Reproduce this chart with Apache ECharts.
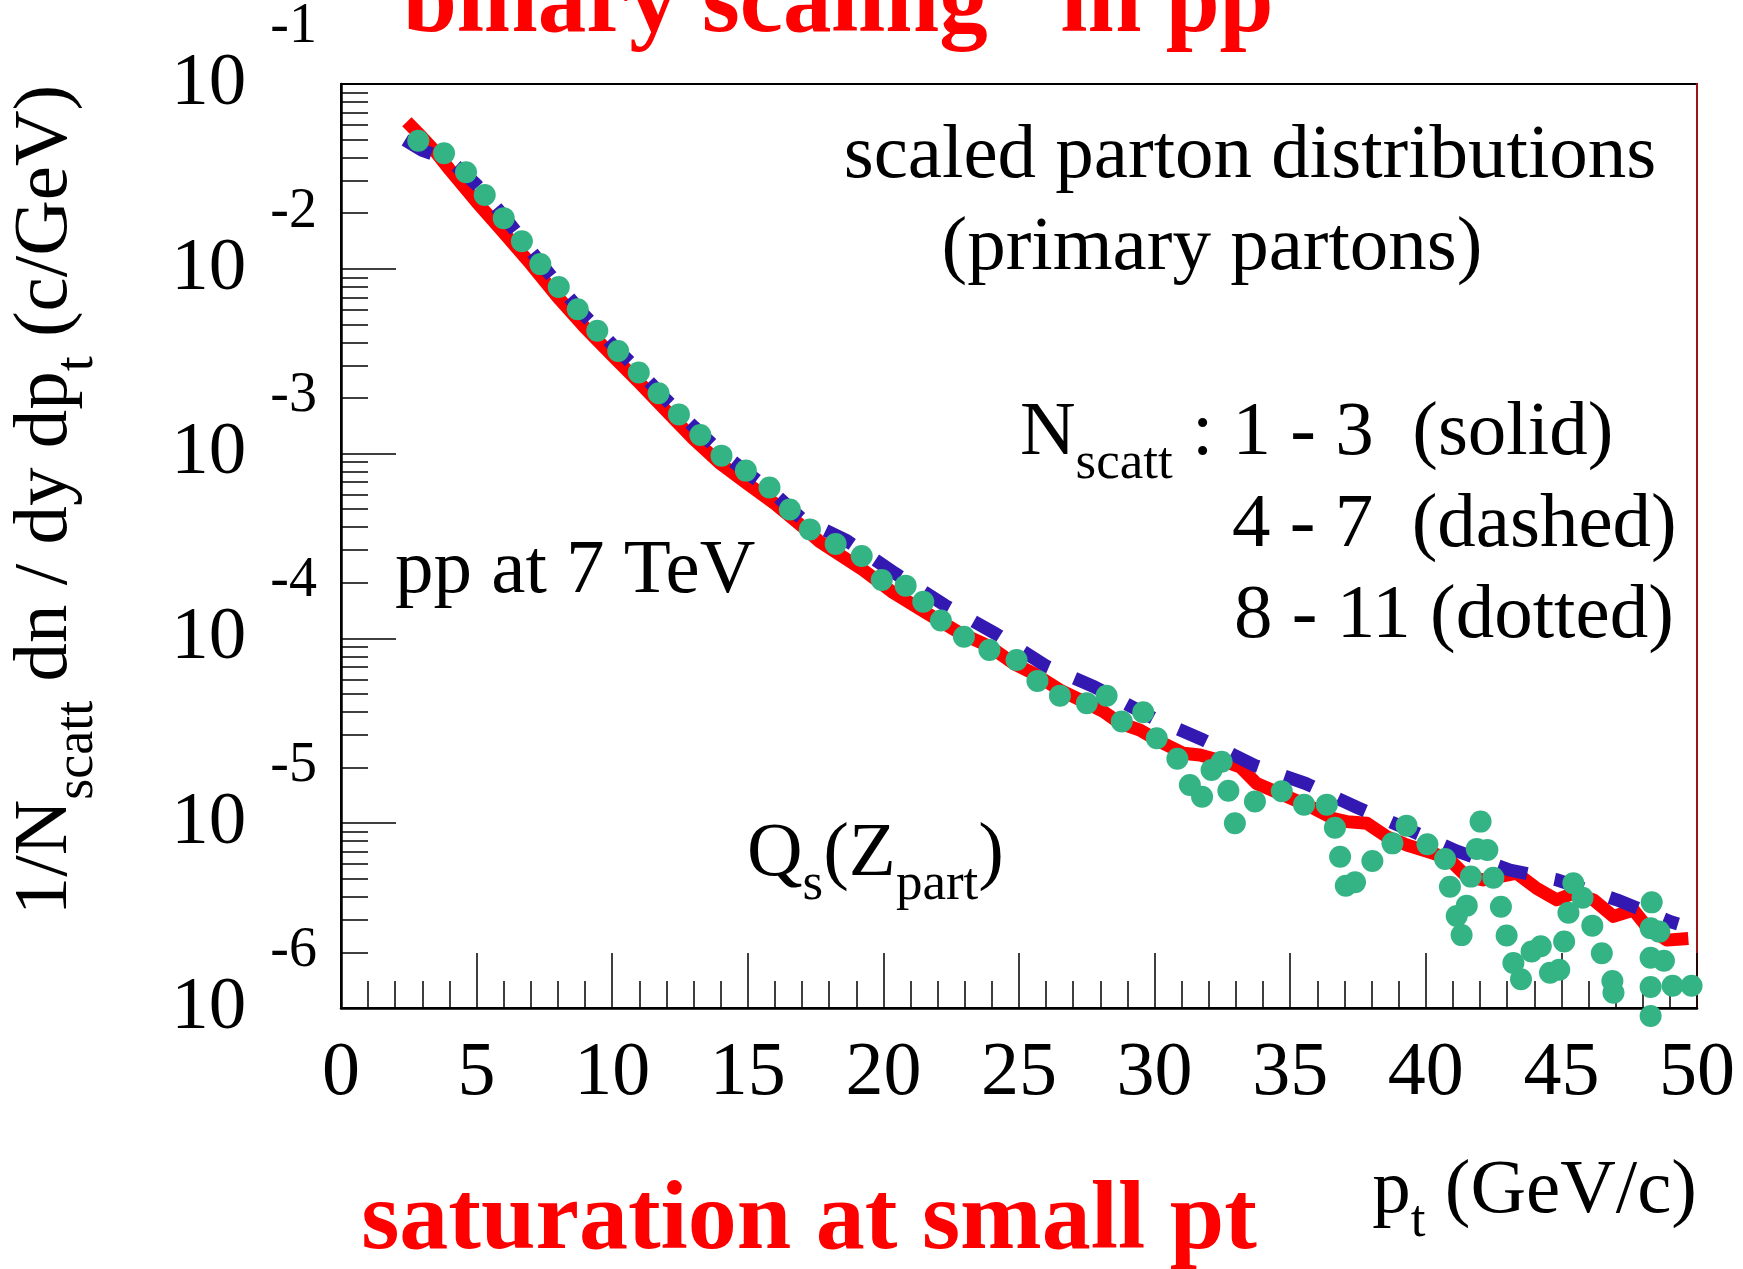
<!DOCTYPE html>
<html>
<head>
    <meta charset="utf-8" />
    <title>scaled parton distributions</title>
    <script src="https://cdn.jsdelivr.net/npm/echarts@6.0.0/dist/echarts.min.js"></script>
    <style>
        html, body { margin: 0; padding: 0; background: #ffffff; }
        #chart { width: 1743px; height: 1269px; }
    </style>
</head>
<body>
    <div id="chart"></div>
    <script>
        var serif = '"Liberation Serif", "Times New Roman", serif';

        // N_scatt 1 - 3 (solid red)
        var redPt = [2.43, 3.0, 3.5, 4.0, 5.0, 6.0, 7.0, 8.0, 9.0, 10.0, 11.0, 12.0, 13.0, 14.0, 15.0, 16.0, 17.0,
            17.66, 19.26, 20.31, 21.6, 22.82, 23.93, 24.79, 25.53, 26.51, 27.5, 28.11, 28.72, 29.46, 30.2, 31.06,
            31.67, 32.78, 33.15, 33.76, 34.75, 35.73, 36.59, 37.08, 37.82, 38.56, 39.3, 40.28, 40.89, 41.51, 42.12,
            43.35, 44.09, 44.83, 45.44, 46.18, 46.92, 47.66, 48.15, 48.89, 49.68];
        var redVal = [6.25e-2, 5.13e-2, 4.27e-2, 3.45e-2, 2.30e-2, 1.57e-2, 1.06e-2, 7.00e-3, 4.80e-3, 3.40e-3, 2.42e-3,
            1.70e-3, 1.20e-3, 8.80e-4, 6.85e-4, 5.35e-4, 4.05e-4,
            3.33e-4, 2.34e-4, 1.79e-4, 1.37e-4, 1.07e-4, 9.02e-5, 7.33e-5, 6.47e-5, 5.26e-5, 4.46e-5, 4.02e-5, 3.48e-5,
            3.19e-5, 2.76e-5, 2.39e-5,
            2.34e-5, 2.11e-5, 2.02e-5, 1.64e-5, 1.42e-5, 1.23e-5, 1.06e-5, 1.02e-5, 1.00e-5, 8.45e-6, 7.62e-6, 6.87e-6,
            6.32e-6, 5.14e-6, 4.93e-6, 5.36e-6, 4.44e-6, 3.85e-6, 4.18e-6, 3.85e-6, 3.13e-6, 3.39e-6, 2.75e-6, 2.33e-6,
            2.38e-6];

        // N_scatt 4 - 7 (dashed blue)
        var bluePt = [2.36, 3.0, 4.0, 5.0, 6.0, 7.0, 8.0, 9.0, 10.0, 11.0, 12.0, 13.0, 14.0, 15.0, 16.0, 17.0, 18.65,
            20.43, 22.27, 24.14, 25.98, 27.77, 30.01, 31.8, 33.70, 35.57, 37.45, 39.26, 41.1, 43.1, 44.85, 47.04, 49.0, 49.3];
        var blueVal = [4.98e-2, 4.37e-2, 3.89e-2, 2.85e-2, 1.93e-2, 1.25e-2, 8.22e-3, 5.56e-3, 3.89e-3, 2.79e-3, 1.95e-3,
            1.40e-3, 1.02e-3, 7.85e-4, 6.03e-4, 4.42e-4, 3.38e-4, 2.25e-4, 1.51e-4, 1.06e-4, 7.11e-5, 5.48e-5, 3.66e-5,
            2.82e-5, 2.05e-5, 1.64e-5, 1.22e-5, 9.38e-6, 7.10e-6, 5.58e-6, 4.93e-6, 3.85e-6, 2.94e-6, 2.85e-6];

        // N_scatt 8 - 11 (dotted green), one entry per dot
        var greenPt = [2.85, 3.80, 4.61, 5.30, 6.00, 6.67, 7.35, 8.03, 8.73, 9.45, 10.22, 10.98, 11.71, 12.46, 13.25,
            14.03, 14.93, 15.80, 16.55, 17.29, 18.24, 19.20,
            19.94, 20.82, 21.47, 22.12, 22.97, 23.91, 24.91, 25.68, 26.51, 27.50, 28.23, 28.79, 29.58, 30.08, 30.84,
            31.30, 31.75, 32.10, 32.47, 32.72, 32.96,
            33.70, 34.69, 35.51, 36.35, 36.65, 36.84, 37.05, 37.39, 38.03, 38.77, 39.29, 40.06, 40.71, 40.89, 41.14,
            41.32, 41.51, 41.66, 41.88, 42.02, 42.27, 42.49, 42.77, 42.98, 43.23, 43.51, 43.90, 44.24, 44.58, 44.92,
            45.10, 45.26, 45.44, 45.78, 46.14, 46.49, 46.88, 46.92,
            48.33, 48.29, 48.61, 48.29, 48.78, 48.29, 49.10, 49.80, 48.29];
        var greenVal = [4.93e-2, 4.22e-2, 3.33e-2, 2.51e-2, 1.88e-2, 1.41e-2, 1.06e-2, 7.98e-3, 6.04e-3, 4.62e-3,
            3.59e-3, 2.75e-3, 2.12e-3, 1.63e-3, 1.26e-3, 9.75e-4, 8.09e-4, 6.55e-4, 4.98e-4, 3.89e-4, 3.24e-4, 2.79e-4,
            2.07e-4, 1.93e-4, 1.58e-4, 1.25e-4, 1.02e-4, 8.65e-5, 7.64e-5, 5.89e-5, 4.90e-5, 4.46e-5, 4.89e-5, 3.55e-5,
            3.98e-5, 2.88e-5, 2.23e-5, 1.61e-5, 1.39e-5, 1.94e-5, 2.15e-5, 1.50e-5, 1.00e-5,
            1.31e-5, 1.49e-5, 1.26e-5, 1.26e-5, 9.46e-6, 6.59e-6, 4.59e-6, 4.79e-6, 6.24e-6, 7.78e-6, 9.70e-6, 7.69e-6,
            6.40e-6, 4.53e-6, 3.15e-6, 2.48e-6, 3.58e-6, 5.14e-6, 7.26e-6, 1.02e-5, 7.16e-6, 5.07e-6, 3.53e-6, 2.47e-6,
            1.75e-6, 1.43e-6, 2.02e-6, 2.16e-6, 1.55e-6, 1.61e-6, 2.29e-6, 3.28e-6, 4.73e-6, 3.95e-6, 2.79e-6, 1.98e-6,
            1.40e-6, 1.21e-6,
            3.73e-6, 2.70e-6, 2.59e-6, 1.87e-6, 1.80e-6, 1.30e-6, 1.32e-6, 1.32e-6, 9.06e-7];

        // axis ticks
        var yDecades = [1e-6, 1e-5, 1e-4, 1e-3, 1e-2];
        var minorSteps = [2, 3, 4, 5, 6, 7, 8, 9];

        function pairs(xs, ys) {
            return xs.map(function (x, i) { return [x, ys[i]]; });
        }

        var yMinorTicks = [];
        yDecades.forEach(function (d) {
            minorSteps.forEach(function (m) { yMinorTicks.push(m * d); });
        });

        var tickLine = { color: '#000', width: 1.5 };
        var subStyle = { fontSize: 53, fontFamily: serif, fill: '#000', padding: [60, 0, 0, 0] };
        var mainStyle = { fontSize: 77, fontFamily: serif, fill: '#000' };

        function label(x, y, text, align) {
            return {
                type: 'text', x: x, y: y, silent: true,
                style: {
                    text: text, fill: '#000', fontSize: 77, fontFamily: serif,
                    align: align, textAlign: align, verticalAlign: 'middle', textVerticalAlign: 'middle',
                    rich: { m: mainStyle, s: subStyle }
                }
            };
        }

        var chart = echarts.init(document.getElementById('chart'));

        var option = {
            animation: false,
            backgroundColor: '#ffffff',
            grid: {
                left: 341, right: 46, top: 84, bottom: 261,
                show: true, borderColor: '#000', borderWidth: 2,
                containLabel: false, outerBoundsMode: 'none'
            },
            xAxis: [{
                type: 'value', min: 0, max: 50, interval: 5, position: 'bottom',
                axisLine: { show: true, onZero: false, lineStyle: { color: '#000', width: 2.5 } },
                axisTick: { show: true, inside: true, length: 55, lineStyle: tickLine },
                minorTick: { show: true, splitNumber: 5, length: 27, lineStyle: tickLine },
                splitLine: { show: false },
                minorSplitLine: { show: false },
                axisLabel: { margin: 28, fontFamily: serif, fontSize: 76, color: '#000' }
            }],
            yAxis: [{
                type: 'log', logBase: 10, min: 1e-6, max: 1e-1, position: 'left',
                axisLine: { show: true, onZero: false, lineStyle: { color: '#000', width: 2.5 } },
                axisTick: { show: true, inside: true, length: 55, lineStyle: tickLine },
                splitLine: { show: false },
                axisLabel: {
                    margin: 24, showMinLabel: true, showMaxLabel: true,
                    formatter: function (v) {
                        var n = Math.round(Math.log10(v));
                        return '{b|10}{e|' + n + '}';
                    },
                    rich: {
                        b: { fontFamily: serif, fontSize: 75, color: '#000' },
                        e: { fontFamily: serif, fontSize: 56, color: '#000', padding: [0, 0, 114, 24] }
                    }
                }
            }, {
                // minor ticks 2..9 of every decade
                type: 'log', logBase: 10, min: 1e-6, max: 1e-1, position: 'left',
                axisLine: { show: false, onZero: false },
                axisLabel: { show: false },
                splitLine: { show: false },
                axisTick: { show: true, inside: true, length: 27, customValues: yMinorTicks, lineStyle: tickLine }
            }, {
                type: 'log', logBase: 10, min: 1e-6, max: 1e-1, position: 'right',
                axisLine: { show: true, onZero: false, lineStyle: { color: '#9a1515', width: 2 } },
                axisTick: { show: false },
                axisLabel: { show: false },
                splitLine: { show: false }
            }],
            series: [{
                name: '1 - 3', type: 'line', data: pairs(redPt, redVal),
                symbol: 'none', showSymbol: false, clip: false, silent: true, z: 2,
                lineStyle: { color: '#ff0000', width: 13, cap: 'butt', join: 'round' }
            }, {
                name: '4 - 7', type: 'line', data: pairs(bluePt, blueVal),
                symbol: 'none', showSymbol: false, clip: false, silent: true, z: 3,
                lineStyle: { color: '#3319b2', width: 13, type: [30, 28], cap: 'butt' }
            }, {
                name: '8 - 11', type: 'scatter', data: pairs(greenPt, greenVal),
                symbol: 'circle', symbolSize: 22, clip: false, silent: true, z: 4,
                itemStyle: { color: '#34b484', opacity: 1 }
            }],
            graphic: {
                elements: [
                    {
                        type: 'text', x: 814, y: 6, silent: true,
                        style: {
                            text: '\u201cbinary scaling\u201d in pp', fill: '#ff0000',
                            fontSize: 97, fontWeight: 'bold', fontFamily: serif,
                            align: 'center', textAlign: 'center', verticalAlign: 'middle', textVerticalAlign: 'middle'
                        }
                    },
                    {
                        type: 'text', x: 809, y: 1223, silent: true,
                        style: {
                            text: 'saturation at small pt', fill: '#ff0000',
                            fontSize: 98, fontWeight: 'bold', fontFamily: serif,
                            align: 'center', textAlign: 'center', verticalAlign: 'middle', textVerticalAlign: 'middle'
                        }
                    },
                    label(1250, 157, 'scaled parton distributions', 'center'),
                    label(1212, 249, '(primary partons)', 'center'),
                    label(1020, 434, '{m|N}{s|scatt}{m| : 1 - 3  (solid)}', 'left'),
                    label(1232, 526, '4 - 7  (dashed)', 'left'),
                    label(1234, 617, '8 - 11 (dotted)', 'left'),
                    label(395, 572, 'pp at 7 TeV', 'left'),
                    label(747, 855, '{m|Q}{s|s}{m|(Z}{s|part}{m|)}', 'left'),
                    label(1697, 1192, '{m|p}{s|t}{m| (GeV/c)}', 'right'),
                    {
                        type: 'text', x: 46, y: 500, rotation: Math.PI / 2, silent: true,
                        style: {
                            text: '{m|1/N}{s|scatt}{m| dn / dy dp}{s|t}{m| (c/GeV)}', fill: '#000',
                            fontSize: 77, fontFamily: serif,
                            align: 'center', textAlign: 'center', verticalAlign: 'middle', textVerticalAlign: 'middle',
                            rich: {
                                m: { fontSize: 77, fontFamily: serif, fill: '#000' },
                                s: { fontSize: 54, fontFamily: serif, fill: '#000', padding: [64, 0, 0, 0] }
                            }
                        }
                    }
                ]
            }
        };

        chart.setOption(option);
    </script>
</body>
</html>
